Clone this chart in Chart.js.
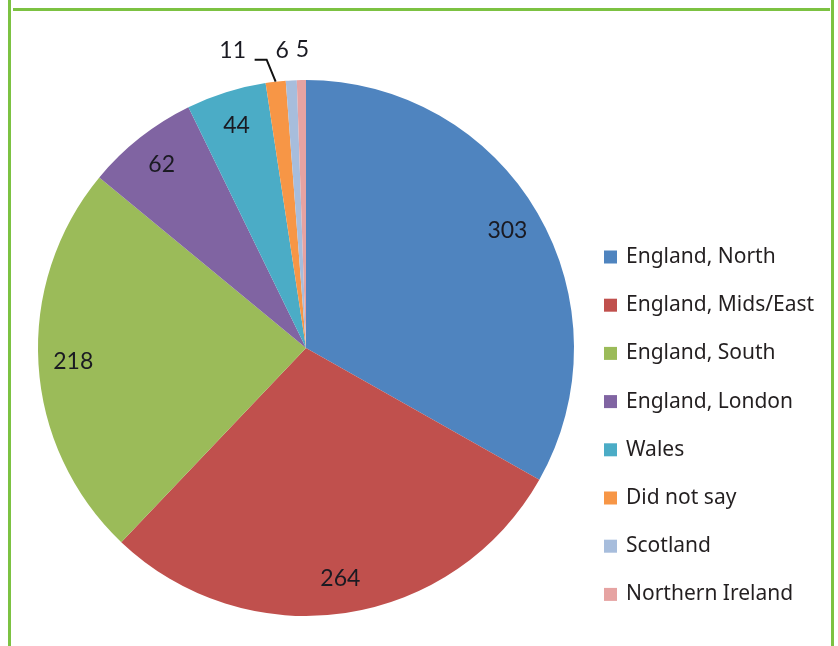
<!DOCTYPE html>
<html>
<head>
<meta charset="utf-8">
<script src="https://cdn.jsdelivr.net/npm/chart.js@4.4.1/dist/chart.umd.min.js"></script>
<style>
  html, body { margin: 0; padding: 0; background: #ffffff; }
  #wrap { width: 838px; height: 646px; }
</style>
</head>
<body>
<div id="wrap"><canvas id="chart" width="838" height="646"></canvas></div>
<script>
// Respondents by region
const regions = [
  'England, North',
  'England, Mids/East',
  'England, South',
  'England, London',
  'Wales',
  'Did not say',
  'Scotland',
  'Northern Ireland'
];
const respondents = [303, 264, 218, 62, 44, 11, 6, 5];
const sliceColors = [
  '#4F84BF', '#C0504D', '#9BBB59', '#8064A2',
  '#4BACC6', '#F79646', '#A7BDDC', '#E6A3A2'
];

// Small slices get their value written above the pie (offset from the arc's outer midpoint)
const outsideLabels = {
  5: { dx: -43, dy: -31, leader: true },
  6: { dx: -9, dy: -30 },
  7: { dx: 1, dy: -30 }
};

const frameGreen = '#7CC242';

const framePlugin = {
  id: 'frame',
  beforeDraw(chart) {
    const ctx = chart.ctx;
    ctx.save();
    ctx.fillStyle = '#ffffff';
    ctx.fillRect(0, 0, chart.width, chart.height);
    ctx.fillStyle = frameGreen;
    ctx.fillRect(8, 0, 3, chart.height);      // left edge
    ctx.fillRect(831, 0, 3, chart.height);    // right edge
    ctx.fillRect(13, 8, 817, 3);              // top rule
    ctx.restore();
  }
};

const valueLabelPlugin = {
  id: 'valueLabels',
  afterDatasetsDraw(chart) {
    const ctx = chart.ctx;
    const meta = chart.getDatasetMeta(0);
    const values = chart.data.datasets[0].data;
    ctx.save();
    ctx.font = '23px Lato, "Liberation Sans", sans-serif';
    ctx.fillStyle = '#1a1a22';
    ctx.textAlign = 'center';
    ctx.textBaseline = 'middle';
    meta.data.forEach((arc, i) => {
      const p = arc.getProps(['x', 'y', 'startAngle', 'endAngle', 'outerRadius'], true);
      const mid = (p.startAngle + p.endAngle) / 2;
      const text = String(values[i]);
      const out = outsideLabels[i];
      if (out) {
        const ox = p.x + Math.cos(mid) * p.outerRadius;
        const oy = p.y + Math.sin(mid) * p.outerRadius;
        const lx = ox + out.dx;
        const ly = oy + out.dy;
        if (out.leader) {
          ctx.strokeStyle = '#111111';
          ctx.lineWidth = 2;
          ctx.beginPath();
          ctx.moveTo(ox, oy);
          ctx.lineTo(lx + 34, ly + 9);
          ctx.lineTo(lx + 22, ly + 9);
          ctx.stroke();
        }
        ctx.fillText(text, lx, ly);
      } else {
        const r = p.outerRadius * 0.87;
        ctx.fillText(text, p.x + Math.cos(mid) * r, p.y + Math.sin(mid) * r);
      }
    });
    ctx.restore();
  }
};

const legendPlugin = {
  id: 'sideLegend',
  afterDraw(chart) {
    const ctx = chart.ctx;
    const colors = chart.data.datasets[0].backgroundColor;
    const x0 = 604, y0 = 257, step = 48.2, box = 13;
    ctx.save();
    ctx.font = '21px "Noto Sans", "Open Sans", sans-serif';
    ctx.textAlign = 'left';
    ctx.textBaseline = 'middle';
    chart.data.labels.forEach((label, i) => {
      const y = y0 + i * step;
      ctx.fillStyle = colors[i];
      ctx.fillRect(x0, y - box / 2, box, box);
      ctx.fillStyle = '#231f20';
      ctx.fillText(label, 626, y);
    });
    ctx.restore();
  }
};

new Chart(document.getElementById('chart'), {
  type: 'pie',
  data: {
    labels: regions,
    datasets: [{
      data: respondents,
      backgroundColor: sliceColors,
      borderWidth: 0
    }]
  },
  options: {
    responsive: false,
    animation: false,
    layout: { padding: { left: 38, right: 264, top: 80, bottom: 30 } },
    plugins: {
      legend: { display: false },
      tooltip: { enabled: false }
    }
  },
  plugins: [framePlugin, valueLabelPlugin, legendPlugin]
});
</script>
</body>
</html>
